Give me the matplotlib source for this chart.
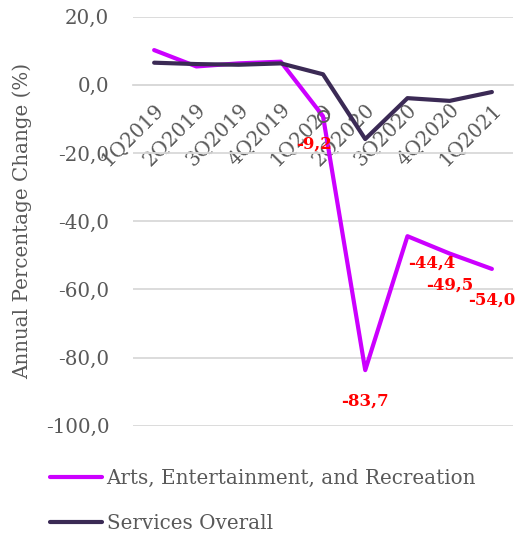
import matplotlib
matplotlib.use("Agg")
import matplotlib.pyplot as plt
from matplotlib.ticker import MultipleLocator, FuncFormatter

quarters = ["1Q2019", "2Q2019", "3Q2019", "4Q2019", "1Q2020",
            "2Q2020", "3Q2020", "4Q2020", "1Q2021"]
arts = [10.2, 5.4, 6.3, 6.8, -9.2, -83.7, -44.4, -49.5, -54.0]
services = [6.5, 6.1, 5.9, 6.3, 3.1, -15.9, -3.9, -4.7, -2.1]
labelled_idx = [4, 5, 6, 7, 8]
label_offsets = [(-9, -28), (0, -31), (24, -27), (0, -32), (0, -31)]

ARTS_C = "#CC00FF"
SERV_C = "#3B2A55"
TEXT_C = "#595959"
FONT = "DejaVu Serif"
FS = 14.3

plt.rcParams["font.family"] = FONT

fig = plt.figure(figsize=(5.16, 5.33), dpi=100)
ax = fig.add_axes([0.2578, 0.2013, 0.9942 - 0.2578, 0.9687 - 0.2013])

x = list(range(len(quarters)))
ax.plot(x, arts, color=ARTS_C, lw=3.0, solid_joinstyle="round",
        solid_capstyle="round", label="Arts, Entertainment, and Recreation", zorder=3)
ax.plot(x, services, color=SERV_C, lw=3.0, solid_joinstyle="round",
        solid_capstyle="round", label="Services Overall", zorder=3)

# highlighted point
ax.plot([4], [arts[4]], marker="o", ms=8, mfc="none", mec="#5a5a5a", mew=1.3, zorder=4)

for i, (dx, dy) in zip(labelled_idx, label_offsets):
    ax.annotate(f"{arts[i]:.1f}".replace(".", ","), (x[i], arts[i]),
                xytext=(dx * 0.72, dy * 0.72), textcoords="offset points",
                ha="center", va="center", color="#FF0000",
                fontweight="bold", fontsize=12, zorder=5)

ax.set_xlim(-0.5, len(quarters) - 0.5)
ax.set_ylim(-100, 20)
ax.yaxis.set_major_locator(MultipleLocator(20))
ax.yaxis.set_major_formatter(FuncFormatter(lambda v, p: f"{v:.1f}".replace(".", ",")))
ax.grid(axis="y", color="#d9d9d9", lw=1.3, zorder=0)
ax.set_axisbelow(True)

for s in ["top", "right", "left"]:
    ax.spines[s].set_visible(False)
ax.spines["bottom"].set_position(("data", 0))
ax.spines["bottom"].set_color("#d9d9d9")
ax.spines["bottom"].set_linewidth(1.3)

ax.set_xticks(x)
ax.set_xticklabels(quarters, rotation=45, ha="right", rotation_mode="anchor")
ax.tick_params(axis="x", length=0, pad=11, labelsize=FS, labelcolor=TEXT_C)
ax.tick_params(axis="y", length=0, pad=17, labelsize=FS, labelcolor=TEXT_C)

ax.set_ylabel("Annual Percentage Change (%)", fontsize=FS, color=TEXT_C, labelpad=10)

leg = ax.legend(loc="upper left", bbox_to_anchor=(50 / 516, 1 - 469 / 533),
                bbox_transform=fig.transFigure, frameon=False, fontsize=FS,
                handlelength=2.6, handletextpad=0.25, labelspacing=1.3,
                borderaxespad=0, borderpad=0)
for t in leg.get_texts():
    t.set_color(TEXT_C)

fig.savefig("out.png", dpi=100)
